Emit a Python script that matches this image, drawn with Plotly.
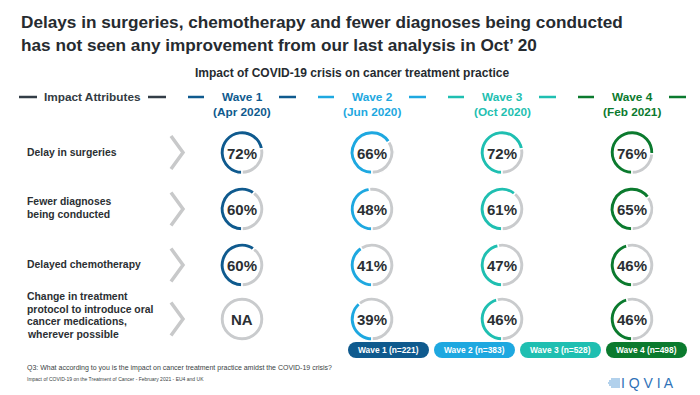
import plotly.graph_objects as go

# ---------------- data ----------------
title_lines = ["Delays in surgeries, chemotherapy and fewer diagnoses being conducted",
               "has not seen any improvement from our last analysis in Oct\u2019 20"]
subtitle = "Impact of COVID-19 crisis on cancer treatment practice"
attr_header = "Impact Attributes"
attributes = [
    ["Delay in surgeries"],
    ["Fewer diagnoses", "being conducted"],
    ["Delayed chemotherapy"],
    ["Change in treatment", "protocol to introduce oral", "cancer medications,", "wherever possible"],
]
waves = ["Wave 1", "Wave 2", "Wave 3", "Wave 4"]
wave_dates = ["(Apr 2020)", "(Jun 2020)", "(Oct 2020)", "(Feb 2021)"]
wave_n = [221, 383, 528, 498]
wave1_vals = [72, 60, 60, None]
wave2_vals = [66, 48, 41, 39]
wave3_vals = [72, 61, 47, 46]
wave4_vals = [76, 65, 46, 46]
values = [wave1_vals, wave2_vals, wave3_vals, wave4_vals]
footnote1 = "Q3: What according to you is the impact on cancer treatment practice amidst the COVID-19 crisis?"
footnote2 = "Impact of COVID-19 on the Treatment of Cancer - February 2021 - EU4 and UK"

# ---------------- styles / layout ----------------
W, H = 700, 395
FONT = "Liberation Sans, Arial, sans-serif"
wave_colors = ["#0f5a8e", "#1ea8e0", "#1fbfb1", "#0b7a2e"]
ring_gray = "#c9cbcd"
dark = "#2b2f33"
col_x = [242, 372, 502, 632]
row_y = [152.5, 209, 265, 319]
R = 22
line_gap = 12.4


def X(px):
    return px / W


def Y(py):
    return 1 - py / H


fig = go.Figure()
annotations = []
shapes = []


def text(x, y, s, size, color=dark, bold=True, xanchor="center", family=FONT):
    annotations.append(dict(
        x=X(x), y=Y(y), xref="paper", yref="paper", showarrow=False,
        text=f"<b>{s}</b>" if bold else s, xanchor=xanchor, yanchor="middle",
        font=dict(family=family, size=size, color=color), borderpad=0))


def seg(x0, y0, x1, y1, color, width):
    shapes.append(dict(type="line", xref="paper", yref="paper",
                       x0=X(x0), y0=Y(y0), x1=X(x1), y1=Y(y1),
                       line=dict(color=color, width=width)))


# title
text(20, 22, title_lines[0], 17.2, color="#262b30", xanchor="left")
text(20, 45, title_lines[1], 17.2, color="#262b30", xanchor="left")
text(352, 73, subtitle, 12, color="#262b30")

# header
text(92.5, 97, attr_header, 11.8, color="#333b42")
seg(19, 97, 37, 97, "#333d47", 2.5)
seg(148, 97, 166, 97, "#333d47", 2.5)
for i, cx in enumerate(col_x):
    c = wave_colors[i]
    text(cx, 97, waves[i], 11.8, color=c)
    text(cx, 112.5, wave_dates[i], 11.8, color=c)
    seg(cx - 54, 97, cx - 38, 97, c, 2.5)
    seg(cx + 37, 97, cx + 54, 97, c, 2.5)

# row labels and chevrons
for r, lines in enumerate(attributes):
    cy = row_y[r] - (0.5 if len(lines) == 1 else (1 if len(lines) == 2 else 3.5))
    n = len(lines)
    for k, ln in enumerate(lines):
        ly = cy + (k - (n - 1) / 2) * line_gap
        text(26, ly, ln, 10.4, xanchor="left")
    shapes.append(dict(type="path", xref="paper", yref="paper",
                       path=f"M {X(171)},{Y(row_y[r]-16.5)} L {X(183)},{Y(row_y[r])} L {X(171)},{Y(row_y[r]+16.5)}",
                       line=dict(color="#c8c9ca", width=3.5)))

# rings
for i, cx in enumerate(col_x):
    for r, cy in enumerate(row_y):
        v = values[i][r]
        dom = dict(x=[X(cx - R), X(cx + R)], y=[Y(cy + R), Y(cy - R)])
        if v is None:
            vals, cols, label = [100], [ring_gray], "NA"
        else:
            vals, cols, label = [v, 100 - v], [wave_colors[i], ring_gray], f"{v}%"
        fig.add_trace(go.Pie(values=vals, domain=dom, hole=0.8, sort=False,
                             direction="clockwise", rotation=180,
                             marker=dict(colors=cols, line=dict(color="white", width=1.5)),
                             textinfo="none", hoverinfo="skip", showlegend=False))
        text(cx, cy + 0.5, label, 15)

# legend pills
pill_x = [388.5, 474.5, 560.5, 646.5]
for i, px in enumerate(pill_x):
    c = wave_colors[i]
    shapes.append(dict(type="rect", xref="paper", yref="paper",
                       x0=X(px - 32.5), x1=X(px + 32.5), y0=Y(358), y1=Y(342),
                       fillcolor=c, line=dict(width=0)))
    for ex in (px - 32.5, px + 32.5):
        shapes.append(dict(type="circle", xref="paper", yref="paper",
                           x0=X(ex - 8), x1=X(ex + 8), y0=Y(358), y1=Y(342),
                           fillcolor=c, line=dict(width=0)))
    text(px, 350, f"{waves[i]} (n={wave_n[i]})", 8.4, color="white")

# footnotes
text(26, 368, footnote1, 7, color="#3a3f44", bold=False, xanchor="left")
text(26, 379, footnote2, 5, color="#3a3f44", bold=False, xanchor="left")

# logo
for k, (x0, yy) in enumerate([(611, 379), (609, 381), (608, 383), (609, 385), (611, 387)]):
    seg(x0, yy, 620, yy, "#7fb3e0", 1.2)
text(647, 383, "I Q V I A", 14, color="#2f72b8", bold=False)

fig.update_layout(width=W, height=H, margin=dict(l=0, r=0, t=0, b=0),
                  paper_bgcolor="white", plot_bgcolor="white",
                  annotations=annotations, shapes=shapes)
fig.write_html("out.html", config={"displayModeBar": False, "staticPlot": True},
               post_script="document.body.style.margin='0';document.body.style.overflow='hidden';")
